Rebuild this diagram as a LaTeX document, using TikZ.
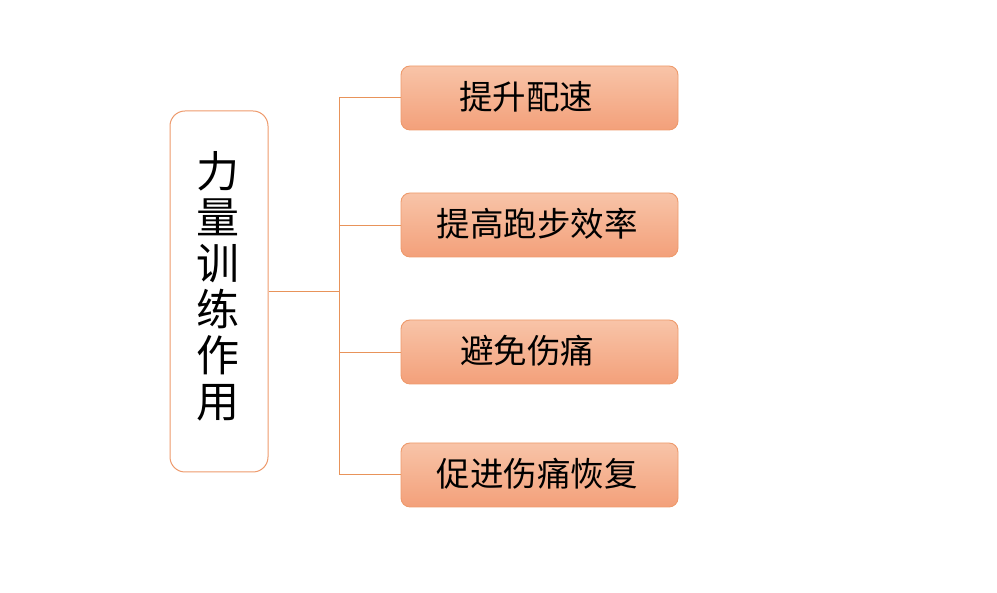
\documentclass[tikz,border=0pt]{standalone}
\usepackage{fontspec}
\newfontfamily\cjk{Noto Sans CJK SC}
\definecolor{boxtop}{HTML}{F8C4A8}
\definecolor{boxbot}{HTML}{F3A07A}
\definecolor{boxline}{HTML}{EE9A6C}
\definecolor{connline}{HTML}{E8935A}
\tikzset{
  leaf/.style={draw=boxline, line width=0.9pt, rounded corners=9pt, top color=boxtop, bottom color=boxbot,
    minimum width=277pt, minimum height=64pt, inner sep=0pt},
  leaftext/.style={font=\cjk\fontsize{33.5}{33.5}\selectfont, text=black, inner sep=0pt},
  rootbox/.style={draw=boxline, line width=1pt, rounded corners=15pt, fill=white,
    minimum width=98pt, minimum height=361pt, inner sep=0pt},
  conn/.style={draw=connline, line width=0.9pt}
}
\begin{document}
\begin{tikzpicture}[x=1pt,y=1pt]
\useasboundingbox (0,0) rectangle (997,593);
\node[rootbox] (root) at (219,301.5) {};
\node[font=\cjk\fontsize{43}{46}\selectfont, align=center, text=black] (roottext) at (218,307)
  {力\\量\\训\\练\\作\\用};
\node[leaf] (b1) at (539.5,495) {};
\node[leaftext] (t1) at (526,496) {提升配速};
\node[leaf] (b2) at (539.5,368) {};
\node[leaftext] (t2) at (537,369) {提高跑步效率};
\node[leaf] (b3) at (539.5,241) {};
\node[leaftext] (t3) at (527,242) {避免伤痛};
\node[leaf] (b4) at (539.5,118) {};
\node[leaftext] (t4) at (537,119) {促进伤痛恢复};
\coordinate (top) at (339,496);
\coordinate (bot) at (339,119);
\coordinate (mid) at (339,302);
\draw[conn] (top) -- (bot);
\draw[conn] (root.east |- mid) -- (mid);
\draw[conn] (top) -- (b1.west |- top);
\draw[conn] (339,368) -- (b2.west);
\draw[conn] (339,241) -- (b3.west);
\draw[conn] (bot) -- (b4.west |- bot);
\end{tikzpicture}
\end{document}
